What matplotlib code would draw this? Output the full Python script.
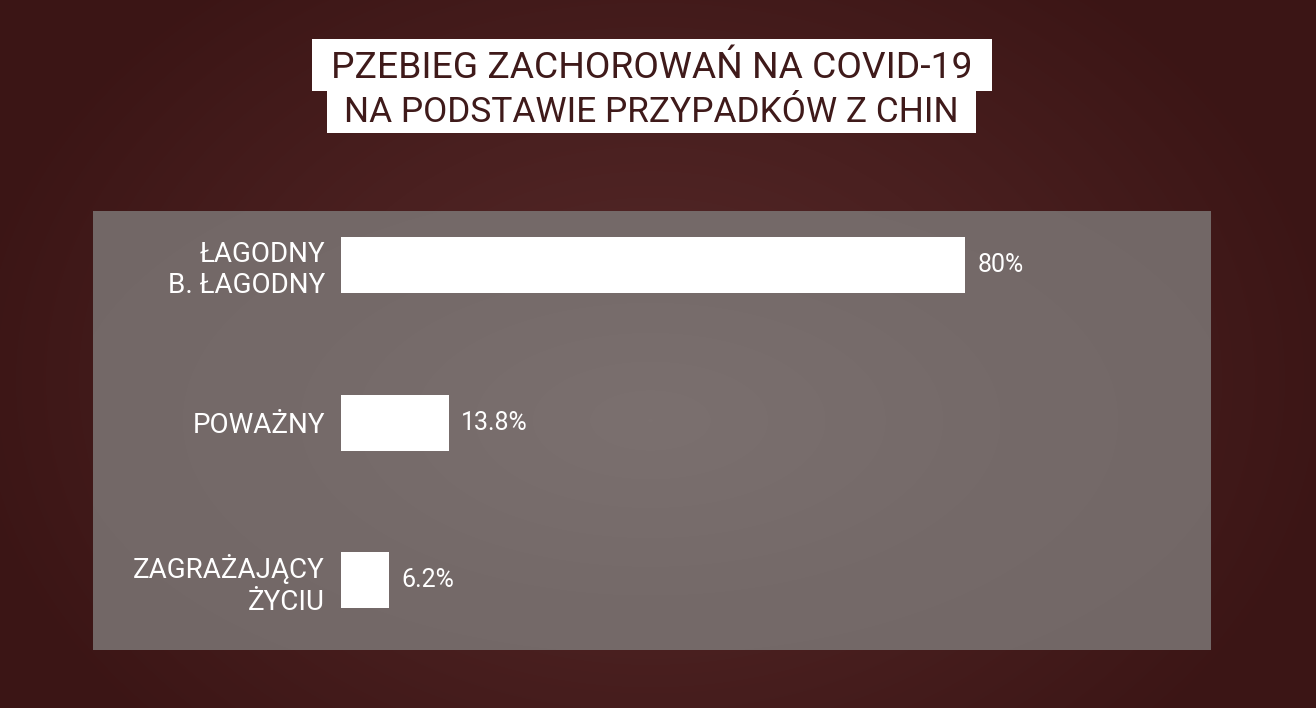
import numpy as np
import matplotlib
matplotlib.use("Agg")
import matplotlib.pyplot as plt
from matplotlib.patches import Rectangle
from matplotlib.colors import LinearSegmentedColormap

# ---- data ----
categories = ["ŁAGODNY\nB. ŁAGODNY", "POWAŻNY", "ZAGRAŻAJĄCY\nŻYCIU"]
values = [80, 13.8, 6.2]
value_labels = ["80%", "13.8%", "6.2%"]
title_line1 = "PZEBIEG ZACHOROWAŃ NA COVID-19"
title_line2 = "NA PODSTAWIE PRZYPADKÓW Z CHIN"

W, H = 1316, 708
DPI = 100
fig = plt.figure(figsize=(W / DPI, H / DPI), dpi=DPI)

def px_rect(x0, y0, x1, y1):
    """pixel coords (top-left origin) -> figure fraction rect"""
    return [x0 / W, 1 - y1 / H, (x1 - x0) / W, (y1 - y0) / H]

# ---- background radial gradient ----
bg = fig.add_axes([0, 0, 1, 1])
yy, xx = np.mgrid[0:H, 0:W]
r = np.sqrt(((xx - 650) / 700.0) ** 2 + ((yy - 380) / 520.0) ** 2)
r = np.clip(r, 0, 1)
cmap_bg = LinearSegmentedColormap.from_list("bg", ["#562a2a", "#4a2020", "#3b1515"])
bg.imshow(r, cmap=cmap_bg, aspect="auto", extent=[0, W, H, 0], vmin=0, vmax=1)
bg.set_xlim(0, W)
bg.set_ylim(H, 0)
bg.axis("off")

# ---- grey panel ----
panel = fig.add_axes(px_rect(93, 211, 1211, 650))
pr = np.sqrt(((xx[211:650, 93:1211] - 650) / 700.0) ** 2 + ((yy[211:650, 93:1211] - 420) / 350.0) ** 2)
cmap_panel = LinearSegmentedColormap.from_list("pn", ["#7b706f", "#756a69", "#726766"])
panel.imshow(np.clip(pr, 0, 1), cmap=cmap_panel, aspect="auto", vmin=0, vmax=1)
panel.axis("off")

# ---- title boxes ----
fig.patches.append(Rectangle((312 / W, 1 - 91 / H), (992 - 312) / W, (91 - 39) / H,
                             transform=fig.transFigure, facecolor="white", edgecolor="none", zorder=5))
fig.patches.append(Rectangle((327 / W, 1 - 133 / H), (976 - 327) / W, (133 - 90) / H,
                             transform=fig.transFigure, facecolor="white", edgecolor="none", zorder=5))
title_color = "#3f1a1a"
fig.text(652 / W, 1 - 68 / H, title_line1, ha="center", va="center", fontsize=26.8,
         family="Roboto", color=title_color, zorder=6)
fig.text(651.5 / W, 1 - 113 / H, title_line2, ha="center", va="center", fontsize=25.4,
         family="Roboto", color=title_color, zorder=6)

# ---- bar axes ----
px_per_unit = 7.8
ax_left, ax_right, ax_top, ax_bot = 341, 1211, 211, 650
ax = fig.add_axes(px_rect(ax_left, ax_top, ax_right, ax_bot))
ax.set_facecolor("none")
pos = np.arange(len(categories))
step = 157.5
ax.barh(pos, values, height=56 / step, color="white", edgecolor="none")
ax.set_xlim(0, (ax_right - ax_left) / px_per_unit)
ax.set_ylim(2 + (ax_bot - 580) / step, -(265 - ax_top) / step)
ax.set_yticks(pos)
ax.set_yticklabels(categories, fontsize=20, family="Roboto", color="white",
                   linespacing=1.2, ha="right")
ax.tick_params(axis="y", length=0, pad=11.5)
ax.set_xticks([])
for s in ax.spines.values():
    s.set_visible(False)

for p, v, lab in zip(pos, values, value_labels):
    ax.annotate(lab, xy=(v, p), xytext=(9, 0), textcoords="offset points",
                ha="left", va="center", fontsize=18, family="Roboto",
                color="white")

fig.savefig("out.png", dpi=DPI)
